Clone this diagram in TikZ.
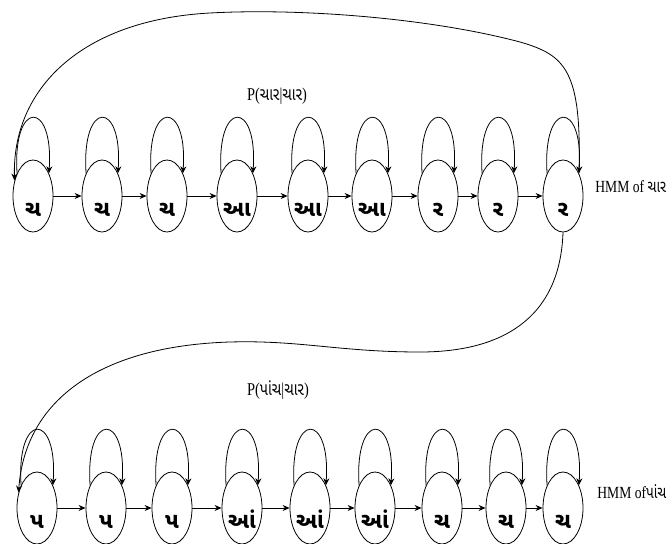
\documentclass[tikz,border=0pt]{standalone}
\usepackage{fontspec}
\setmainfont{Liberation Serif}[FakeStretch=0.8]
\newfontfamily\guj[Script=Gujarati]{Noto Sans Gujarati UI}
\newfontfamily\gujn[Script=Gujarati,FakeStretch=0.8]{Noto Sans Gujarati UI}
\usetikzlibrary{shapes.geometric,arrows.meta}
\begin{document}
\begin{tikzpicture}[x=1pt,y=-1pt,
  line width=0.8pt,
  arr/.style={-{Stealth[length=7pt,width=6pt]}},
  state/.style={draw,ellipse,minimum width=40pt,minimum height=72pt,inner sep=0pt,
     text height=40pt,text depth=0pt,font=\guj\bfseries\fontsize{22}{22}\selectfont},
  lbl/.style={font=\fontsize{18}{18}\selectfont,inner sep=0pt},
  hmm/.style={font=\fontsize{17}{17}\selectfont,inner sep=0pt,anchor=west},
]
\useasboundingbox (0,0) rectangle (670,544);
% top row
\foreach \x/\t [count=\i] in {33/ચ,102/ચ,167/ચ,237/આ,308/આ,372/આ,438/ર,498/ર,563/ર}
  \node[state] (t\i) at (\x,196) {\t};
% bottom row
\foreach \x/\t [count=\i] in {37/પ,106/પ,172/પ,242/આં,310/આં,375/આં,442/ચ,506/ચ,563/ચ}
  \node[state] (b\i) at (\x,508) {\t};
% chain arrows
\foreach \i [evaluate=\i as \j using int(\i+1)] in {1,...,8} {
  \draw[arr] (t\i) -- (t\j);
  \draw[arr] (b\i) -- (b\j);
}
% self loops
\foreach \i in {1,...,9} {
  \draw[arr] (t\i.125) .. controls +(-5,-74) and +(5,-74) .. (t\i.55);
  \draw[arr] (b\i.125) .. controls +(-5,-74) and +(5,-74) .. (b\i.55);
}
% big arcs
\draw[arr] (t9.55) .. controls (582,70) and (565,55) .. (520,42)
  .. controls (430,18) and (300,8) .. (210,13)
  .. controls (80,20) and (12,90) .. (t1.140);
\draw[arr] (t9.south) .. controls (560,320) and (500,352) .. (420,352)
  .. controls (340,352) and (300,340) .. (230,342)
  .. controls (100,346) and (25,400) .. (b1.140);
% labels
\node[lbl] (p1) at (277,96) {P({\gujn ચાર}|{\gujn ચાર})};
\node[lbl] (p2) at (278,390) {P({\gujn પાંચ}|{\gujn ચાર})};
\node[hmm] (h1) at (595,187) {HMM of {\gujn ચાર}};
\node[hmm] (h2) at (597,492) {HMM of{\gujn પાંચ}};
\end{tikzpicture}
\end{document}
